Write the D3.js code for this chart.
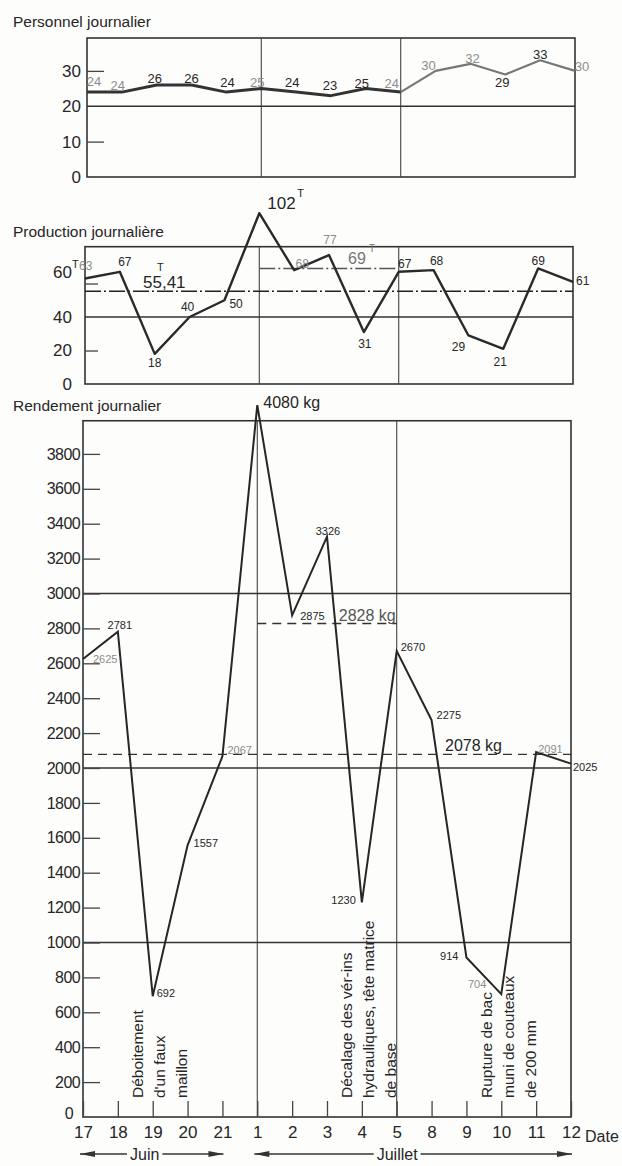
<!DOCTYPE html>
<html>
<head>
<meta charset="utf-8">
<script src="https://cdn.jsdelivr.net/npm/d3@7"></script>
<style>
  html, body { margin: 0; padding: 0; background: #fdfdfc; }
  svg { display: block; }
</style>
</head>
<body>
<svg id="chart" width="622" height="1166"></svg>
<script>
// ---- data ----------------------------------------------------------------
const dates = ["17", "18", "19", "20", "21", "1", "2", "3", "4", "5", "8", "9", "10", "11", "12"];
const personnel = [24, 24, 26, 26, 24, 25, 24, 23, 25, 24, 30, 32, 29, 33, 30];
const production = [63, 67, 18, 40, 50, 102, 68, 77, 31, 67, 68, 29, 21, 69, 61];
const rendement = [2625, 2781, 692, 1557, 2067, 4080, 2875, 3326, 1230, 2670, 2275, 914, 704, 2091, 2025];

const productionMean = 55.41;        // moyenne générale (T)
const productionMeanJuillet = 69;    // moyenne 1–5 juillet (T)
const rendementMean = 2078;          // moyenne générale (kg)
const rendementMeanJuillet = 2828;   // moyenne 1–5 juillet (kg)

const personnelTicks = [0, 10, 20, 30];
const productionTicks = [0, 20, 40, 60];
const rendementTicks = [0, 200, 400, 600, 800, 1000, 1200, 1400, 1600, 1800, 2000,
                        2200, 2400, 2600, 2800, 3000, 3200, 3400, 3600, 3800];

const months = [
  { name: "Juin", from: 0, to: 4 },
  { name: "Juillet", from: 5, to: 14 }
];
const incidents = [
  { at: 2, lines: ["Déboitement", "d'un faux", "maillon"] },
  { at: 8, lines: ["Décalage des vér-ins", "hydrauliques, tête matrice", "de base"] },
  { at: 12, lines: ["Rupture de bac", "muni de couteaux", "de 200 mm"] }
];

// ---- drawing ---------------------------------------------------------------
const FONT = "'Liberation Sans', Arial, sans-serif";
const INK = "#262626";
const FADED = "#8c8c8c";
const svg = d3.select("#chart").style("font-family", FONT);
const idx = d3.range(dates.length);

function panelFrame(g, x, y, y0, yTop) {
  g.append("rect")
    .attr("x", x(0)).attr("y", y(yTop))
    .attr("width", x(dates.length - 1) - x(0))
    .attr("height", y(y0) - y(yTop))
    .attr("fill", "none").attr("stroke", "#333").attr("stroke-width", 1.6);
  // separators at 1 and 5 juillet
  [5, 9].forEach(i => {
    g.append("line")
      .attr("x1", x(i)).attr("x2", x(i))
      .attr("y1", y(yTop)).attr("y2", y(y0))
      .attr("stroke", "#444").attr("stroke-width", 1.1);
  });
}

function hline(g, x, y, v, from, to, opts = {}) {
  g.append("line")
    .attr("x1", x(from)).attr("x2", x(to))
    .attr("y1", y(v)).attr("y2", y(v))
    .attr("stroke", opts.color || "#333")
    .attr("stroke-width", opts.width || 1.5)
    .attr("stroke-dasharray", opts.dash || null);
}

function yAxis(g, y, left, ticks, tickLen, pad, size) {
  const ax = d3.axisLeft(y).tickValues(ticks).tickFormat(d3.format("d"))
    .tickSizeInner(-tickLen).tickSizeOuter(0).tickPadding(pad);
  const a = g.append("g").attr("transform", `translate(${left},0)`).call(ax);
  a.select(".domain").remove();
  a.selectAll(".tick line").attr("stroke", "#444").attr("stroke-width", 1.3);
  a.selectAll(".tick text").attr("font-family", FONT).attr("font-size", size).attr("fill", INK);
  return a;
}

// value labels: place[i] = [anchor, dx, dy] around the vertex
function valueLabels(g, x, y, values, place, size, fadedSet, fmt = d => d) {
  return g.append("g").selectAll("text").data(values).join("text")
    .attr("x", (d, i) => x(i) + place[i][1])
    .attr("y", (d, i) => y(d) + place[i][2])
    .attr("text-anchor", (d, i) => place[i][0])
    .attr("dominant-baseline", "central")
    .attr("font-size", size)
    .attr("fill", (d, i) => fadedSet.has(i) ? FADED : INK)
    .text(fmt);
}

function title(text, x, y) {
  svg.append("text").attr("x", x).attr("y", y)
    .attr("font-size", 15.5).attr("fill", INK).text(text);
}

function sup(g, x, y, color = INK, size = 11) {
  g.append("text").attr("x", x).attr("y", y)
    .attr("font-size", size).attr("fill", color).text("T");
}

// ---- Personnel journalier ------------------------------------------------
{
  const g = svg.append("g");
  const x = d3.scalePoint().domain(idx).range([87, 575]);
  const y = d3.scaleLinear().domain([0, 39.3]).range([177, 38]);
  title("Personnel journalier", 13, 27);
  panelFrame(g, x, y, 0, 39.3);
  hline(g, x, y, 20, 0, 14, { width: 1.6 });
  const a = yAxis(g, y, x(0), personnelTicks, 17, 6, 17);
  a.selectAll(".tick line").filter(d => d === 0 || d === 20).remove();

  const line = d3.line().x(i => x(i)).y(i => y(personnel[i]));
  g.append("path").attr("d", line(d3.range(0, 10)))
    .attr("fill", "none").attr("stroke", "#333").attr("stroke-width", 3).attr("stroke-linejoin", "round");
  g.append("path").attr("d", line(d3.range(9, 15)))
    .attr("fill", "none").attr("stroke", "#777").attr("stroke-width", 2.2).attr("stroke-linejoin", "round");

  const place = [
    ["middle", 7, -11], ["middle", -4, -7], ["middle", -2, -7], ["middle", 0, -7],
    ["middle", 1, -10], ["middle", -4, -6], ["middle", -4, -10], ["middle", -1, -10],
    ["middle", -4, -5], ["middle", -9, -9], ["middle", -7, -5], ["middle", 2, -5],
    ["middle", -3, 8], ["middle", 0, -6], ["middle", 7, -4]
  ];
  valueLabels(g, x, y, personnel, place, 13, new Set([0, 1, 5, 9, 10, 11, 14]));
}

// ---- Production journalière ----------------------------------------------
{
  const g = svg.append("g");
  const x = d3.scalePoint().domain(idx).range([85, 573]);
  const y = d3.scaleLinear().domain([0, 82]).range([384, 246.7]);
  title("Production journalière", 13, 237);
  panelFrame(g, x, y, 0, 82);
  hline(g, x, y, 40, 0, 14, { width: 1.6 });
  hline(g, x, y, productionMean, 0, 14, { width: 1.6, dash: "16,3,2,3", color: "#222" });
  hline(g, x, y, productionMeanJuillet, 5, 9, { width: 1.5, dash: "16,3,2,3", color: "#555" });
  const a = yAxis(g, y, x(0), productionTicks, 13, 13, 17);
  a.selectAll(".tick line").filter(d => d === 0 || d === 40).remove();
  // the 60 label sits a little high, with its unit
  a.selectAll(".tick text").filter(d => d === 60).attr("y", -11);
  sup(g, 72, 268);

  const line = d3.line().x((d, i) => x(i)).y(d => y(d));
  g.append("path").attr("d", line(production))
    .attr("fill", "none").attr("stroke", "#2a2a2a").attr("stroke-width", 2.4).attr("stroke-linejoin", "round");

  const place = [
    ["start", -6, -13], ["middle", 5, -10], ["middle", 0, 9], ["middle", -2, -10],
    ["start", 5, 4], ["start", 8, -10], ["middle", 8, -6], ["middle", 1, -15],
    ["middle", 1, 12], ["middle", 6, -8], ["middle", 3, -9], ["middle", -10, 12],
    ["middle", -3, 13], ["middle", 0, -7], ["start", 3, -1]
  ];
  const labels = valueLabels(g, x, y, production, place, 12, new Set([0, 6, 7]));
  // peak value in larger type with its unit
  labels.filter((d, i) => i === 5).attr("font-size", 17);
  sup(g, x(5) + 38, y(production[5]) - 16);

  // mean labels
  g.append("text").attr("x", 143).attr("y", y(productionMean) - 3)
    .attr("font-size", 17).attr("fill", INK).text(String(productionMean).replace(".", ","));
  sup(g, 157, y(productionMean) - 20);
  g.append("text").attr("x", 348).attr("y", y(productionMeanJuillet) - 4)
    .attr("font-size", 16).attr("fill", "#777").text(productionMeanJuillet);
  sup(g, 369, y(productionMeanJuillet) - 16, "#777", 10);
}

// ---- Rendement journalier -------------------------------------------------
{
  const g = svg.append("g");
  const x = d3.scalePoint().domain(idx).range([83, 571]);
  const y = d3.scaleLinear().domain([0, 4000]).range([1117, 419]);
  title("Rendement journalier", 13, 411);
  panelFrame(g, x, y, 0, 3990);
  [1000, 2000, 3000].forEach(v => hline(g, x, y, v, 0, 14, { width: 1.6 }));
  hline(g, x, y, rendementMean, 0, 14, { width: 1.4, dash: "9,6", color: "#333" });
  hline(g, x, y, rendementMeanJuillet, 5, 9, { width: 1.4, dash: "9,6", color: "#333" });
  const a = yAxis(g, y, x(0), rendementTicks, 17, 3, 16);
  a.selectAll(".tick line").filter(d => d === 0).remove();
  a.selectAll(".tick text").attr("letter-spacing", -0.6);
  a.selectAll(".tick text").filter(d => d === 0).attr("x", -10).attr("y", -4);

  // date axis with inward ticks
  const xa = d3.axisBottom(x).tickFormat(i => dates[i]).tickSizeInner(-16).tickSizeOuter(0).tickPadding(9);
  const ax = g.append("g").attr("transform", `translate(0,${y(0)})`).call(xa);
  ax.select(".domain").remove();
  ax.selectAll(".tick line").attr("stroke", "#444").attr("stroke-width", 1.3);
  ax.selectAll(".tick text").attr("font-family", FONT).attr("font-size", 17).attr("fill", INK);
  g.append("text").attr("x", 585).attr("y", 1142).attr("font-size", 16).attr("fill", INK).text("Date");

  const line = d3.line().x((d, i) => x(i)).y(d => y(d));
  g.append("path").attr("d", line(rendement))
    .attr("fill", "none").attr("stroke", "#262626").attr("stroke-width", 2).attr("stroke-linejoin", "miter");

  const place = [
    ["start", 10, 0], ["middle", 2, -7], ["start", 4, -3], ["start", 6, -2],
    ["start", 5, -6], ["start", 6, -3], ["start", 8, 1], ["middle", 1, -6],
    ["end", -6, -2], ["start", 4, -4], ["start", 5, -5], ["end", -8, -2],
    ["end", -15, -10], ["start", 2, -3], ["start", 2, 3]
  ];
  const labels = valueLabels(g, x, y, rendement, place, 11, new Set([0, 4, 12, 13]));
  labels.filter((d, i) => i === 5).attr("font-size", 16).text(d => d + " kg");

  // mean labels
  g.append("text").attr("x", x(9) - 1).attr("y", y(rendementMeanJuillet) - 3)
    .attr("text-anchor", "end").attr("font-size", 16).attr("fill", "#555").text(rendementMeanJuillet + " kg");
  g.append("text").attr("x", 445).attr("y", y(rendementMean) - 3)
    .attr("font-size", 16).attr("fill", INK).text(rendementMean + " kg");

  // incident notes, written upward from the axis
  incidents.forEach(inc => {
    inc.lines.forEach((t, k) => {
      g.append("text")
        .attr("transform", `translate(${x(inc.at) - 15 + k * 22},${y(0) - 19}) rotate(-90)`)
        .attr("dominant-baseline", "central")
        .attr("font-size", 15.5).attr("fill", INK).text(t);
    });
  });

  // month spans
  const my = 1154;
  months.forEach(m => {
    const x0 = x(m.from) - 3, x1 = x(m.to) + 1;
    const cx = (x0 + x1) / 2 + (m.name === "Juin" ? -7 : -16);
    const t = g.append("text").attr("x", cx).attr("y", my).attr("text-anchor", "middle")
      .attr("dominant-baseline", "central").attr("font-size", 16).attr("fill", INK).text(m.name);
    const w = t.node().getComputedTextLength() / 2 + 3;
    [[x0, cx - w], [cx + w, x1]].forEach(([a1, a2]) => {
      g.append("line").attr("x1", a1).attr("x2", a2).attr("y1", my).attr("y2", my)
        .attr("stroke", "#333").attr("stroke-width", 1.3);
    });
    [[x0, 1], [x1, -1]].forEach(([px, dir]) => {
      g.append("path")
        .attr("d", `M${px},${my} L${px + dir * 15},${my - 3} L${px + dir * 15},${my + 3} Z`)
        .attr("fill", "#333");
    });
  });
}
</script>
</body>
</html>
